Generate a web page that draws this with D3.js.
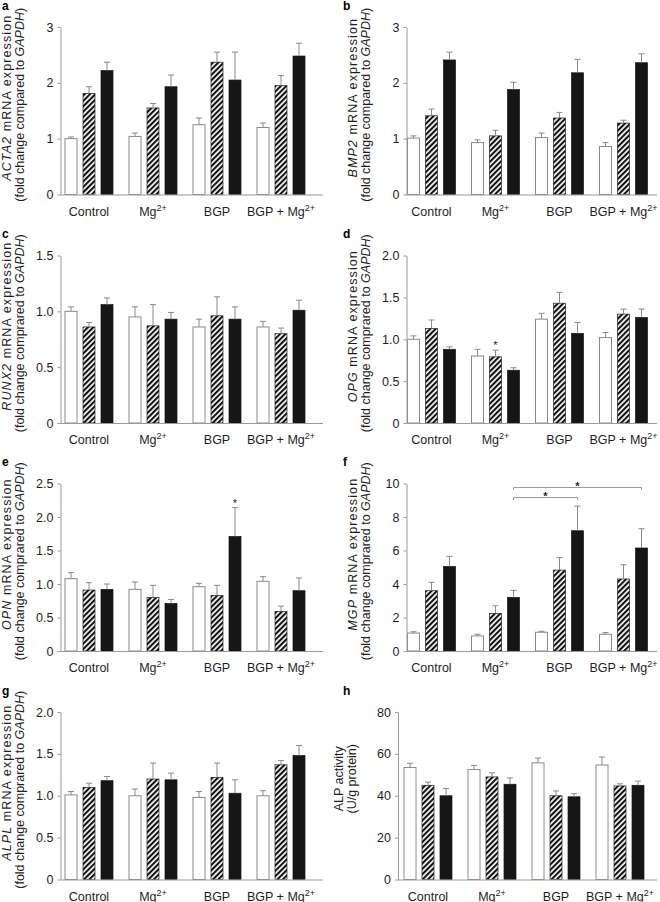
<!DOCTYPE html>
<html>
<head>
<meta charset="utf-8">
<script src="https://cdn.jsdelivr.net/npm/d3@7"></script>
<style>
  body { margin: 0; background: #fff; }
  svg { font-family: "Liberation Sans", Arial, Helvetica, sans-serif; }
</style>
</head>
<body>
<svg id="fig" width="660" height="902"></svg>
<script>
// groups on the x axis and the three bar series inside each group
const groups = ['Control', 'Mg', 'BGP', 'BGPMg'];
const groupLabels = ['Control', 'Mg', 'BGP', 'BGP + Mg'];
const groupSup = ['', '2+', '', '2+'];
const series = ['white', 'hatched', 'black'];

// means (rows = groups, cols = series) and SEM
const acta2Mean = [[1.0, 1.81, 2.22], [1.04, 1.55, 1.93], [1.25, 2.37, 2.05], [1.2, 1.95, 2.48]];
const acta2Sem = [[0.03, 0.12, 0.15], [0.06, 0.08, 0.21], [0.12, 0.18, 0.5], [0.08, 0.18, 0.23]];

const bmp2Mean = [[1.01, 1.41, 2.41], [0.93, 1.05, 1.88], [1.02, 1.37, 2.18], [0.86, 1.28, 2.36]];
const bmp2Sem = [[0.04, 0.12, 0.14], [0.05, 0.10, 0.13], [0.08, 0.10, 0.24], [0.07, 0.05, 0.16]];

const runx2Mean = [[1.0, 0.86, 1.06], [0.95, 0.87, 0.93], [0.86, 0.96, 0.93], [0.86, 0.8, 1.01]];
const runx2Sem = [[0.04, 0.04, 0.06], [0.09, 0.19, 0.06], [0.07, 0.17, 0.11], [0.05, 0.05, 0.09]];

const opgMean = [[1.0, 1.13, 0.88], [0.8, 0.79, 0.63], [1.24, 1.43, 1.07], [1.02, 1.3, 1.26]];
const opgSem = [[0.04, 0.10, 0.03], [0.08, 0.08, 0.03], [0.07, 0.13, 0.13], [0.06, 0.06, 0.10]];

const opnMean = [[1.08, 0.91, 0.92], [0.92, 0.8, 0.71], [0.96, 0.83, 1.71], [1.04, 0.59, 0.9]];
const opnSem = [[0.09, 0.11, 0.08], [0.11, 0.18, 0.06], [0.05, 0.15, 0.43], [0.07, 0.08, 0.19]];

const mgpMean = [[1.07, 3.6, 5.05], [0.9, 2.25, 3.2], [1.12, 4.83, 7.18], [1.0, 4.3, 6.15]];
const mgpSem = [[0.08, 0.5, 0.6], [0.1, 0.45, 0.42], [0.06, 0.75, 1.47], [0.1, 0.85, 1.15]];

const alplMean = [[1.01, 1.1, 1.18], [1.0, 1.2, 1.19], [0.98, 1.22, 1.03], [1.0, 1.37, 1.48]];
const alplSem = [[0.04, 0.05, 0.05], [0.08, 0.19, 0.08], [0.07, 0.17, 0.16], [0.06, 0.05, 0.12]];

const alpMean = [[53.5, 45, 40], [52.5, 49, 45.5], [55.7, 40, 39.5], [54.7, 44.7, 45]];
const alpSem = [[2, 1.5, 3.5], [2, 2, 3], [2.3, 2.3, 1.5], [3.8, 1, 2]];

// tick values and their labels
const ticks3 = [0, 1, 2, 3];
const tickLabels3 = ['0', '1', '2', '3'];
const ticks15 = [0, 0.5, 1, 1.5];
const tickLabels15 = ['0', '0.5', '1.0', '1.5'];
const ticks2 = [0, 0.5, 1, 1.5, 2];
const tickLabels2 = ['0', '0.5', '1.0', '1.5', '2.0'];
const ticks25 = [0, 0.5, 1, 1.5, 2, 2.5];
const tickLabels25 = ['0', '0.5', '1.0', '1.5', '2.0', '2.5'];
const ticks10 = [0, 2, 4, 6, 8, 10];
const tickLabels10 = ['0', '2', '4', '6', '8', '10'];
const ticks80 = [0, 20, 40, 60, 80];
const tickLabels80 = ['0', '20', '40', '60', '80'];

// significance marks: [group, series]
const opgStars = [[1, 1]];
const opnStars = [[2, 2]];
// brackets: [from group, to group, series, height]
const mgpBrackets = [[1, 2, 2, 9.17], [1, 3, 2, 9.82]];

// ---- layout ----
const svg = d3.select('#fig');
const rowTop = [27, 255.5, 483.5, 712];
const plotH = 167.5;
const colLayout = [
  { axisX: 60.5, barX: 65, endX: 323, letterX: 2 },
  { axisX: 406.5, barX: 407.5, endX: 657, letterX: 343 }
];
const axisColor = '#9a9a9a';
const errColor = '#8a8a8a';
const textColor = '#1e1e1e';

const defs = svg.append('defs');
const pat = defs.append('pattern')
  .attr('id', 'hatch')
  .attr('patternUnits', 'userSpaceOnUse')
  .attr('width', 3.8).attr('height', 3.8)
  .attr('patternTransform', 'rotate(45)');
pat.append('rect').attr('width', 3.8).attr('height', 3.8).attr('fill', '#fff');
pat.append('rect').attr('width', 2.1).attr('height', 3.8).attr('fill', '#111');

const panels = [
  { letter: 'a', col: 0, row: 0, mean: acta2Mean, sem: acta2Sem, max: 3, ticks: ticks3, tickLabels: tickLabels3, gene: 'ACTA2', comp: 'compared' },
  { letter: 'b', col: 1, row: 0, mean: bmp2Mean, sem: bmp2Sem, max: 3, ticks: ticks3, tickLabels: tickLabels3, gene: 'BMP2', comp: 'compared' },
  { letter: 'c', col: 0, row: 1, mean: runx2Mean, sem: runx2Sem, max: 1.5, ticks: ticks15, tickLabels: tickLabels15, gene: 'RUNX2', comp: 'comprared' },
  { letter: 'd', col: 1, row: 1, mean: opgMean, sem: opgSem, max: 2, ticks: ticks2, tickLabels: tickLabels2, gene: 'OPG', comp: 'comprared', stars: opgStars },
  { letter: 'e', col: 0, row: 2, mean: opnMean, sem: opnSem, max: 2.5, ticks: ticks25, tickLabels: tickLabels25, gene: 'OPN', comp: 'comprared', stars: opnStars },
  { letter: 'f', col: 1, row: 2, mean: mgpMean, sem: mgpSem, max: 10, ticks: ticks10, tickLabels: tickLabels10, gene: 'MGP', comp: 'comprared', brackets: mgpBrackets },
  { letter: 'g', col: 0, row: 3, mean: alplMean, sem: alplSem, max: 2, ticks: ticks2, tickLabels: tickLabels2, gene: 'ALPL', comp: 'comprared' },
  { letter: 'h', col: 1, row: 3, mean: alpMean, sem: alpSem, max: 80, ticks: ticks80, tickLabels: tickLabels80, activity: true, axisX: 398, barX: 404 }
];

function drawPanel(p) {
  const col = colLayout[p.col];
  const axisX = p.axisX !== undefined ? p.axisX : col.axisX;
  const barX = p.barX !== undefined ? p.barX : col.barX;
  const top = rowTop[p.row];
  const bottom = top + plotH;
  const g = svg.append('g');

  const y = d3.scaleLinear().domain([0, p.max]).range([bottom, top]);
  const x0 = d3.scaleBand().domain(groups).range([barX, barX + 240]).paddingInner(0.25).paddingOuter(0);
  const x1 = d3.scaleBand().domain(series).range([0, x0.bandwidth()]).paddingInner(1 / 3);
  const cx = (gi, si) => x0(groups[gi]) + x1(series[si]) + x1.bandwidth() / 2;

  // bars
  const cells = [];
  p.mean.forEach((row, gi) => row.forEach((v, si) => cells.push({ gi, si, v, e: p.sem[gi][si] })));

  g.selectAll('rect.bar').data(cells).enter().append('rect')
    .attr('class', 'bar')
    .attr('x', d => x0(groups[d.gi]) + x1(series[d.si]))
    .attr('y', d => y(d.v))
    .attr('width', x1.bandwidth())
    .attr('height', d => y(0) - y(d.v))
    .attr('fill', d => d.si === 0 ? '#fff' : d.si === 1 ? 'url(#hatch)' : '#161616')
    .attr('stroke', d => d.si === 0 ? errColor : d.si === 1 ? '#222' : '#161616')
    .attr('stroke-width', d => d.si === 0 ? 1 : 0.7);

  // error bars (upper only)
  g.selectAll('line.err').data(cells).enter().append('line')
    .attr('x1', d => cx(d.gi, d.si)).attr('x2', d => cx(d.gi, d.si))
    .attr('y1', d => y(d.v)).attr('y2', d => y(d.v + d.e))
    .attr('stroke', errColor).attr('stroke-width', 1);
  g.selectAll('line.cap').data(cells).enter().append('line')
    .attr('x1', d => cx(d.gi, d.si) - 3).attr('x2', d => cx(d.gi, d.si) + 3)
    .attr('y1', d => y(d.v + d.e)).attr('y2', d => y(d.v + d.e))
    .attr('stroke', errColor).attr('stroke-width', 1);

  // y axis
  const yAxis = g.append('g')
    .attr('transform', `translate(${axisX},0)`)
    .call(d3.axisLeft(y).tickValues(p.ticks).tickFormat((d, i) => p.tickLabels[i])
      .tickSize(3).tickSizeOuter(0).tickPadding(4));
  yAxis.select('.domain').attr('stroke', axisColor);
  yAxis.selectAll('.tick line').attr('stroke', axisColor);
  yAxis.selectAll('.tick text').attr('fill', textColor).style('font-size', '12.5px');

  // x axis line
  g.append('line')
    .attr('x1', axisX).attr('x2', col.endX)
    .attr('y1', bottom + 0.5).attr('y2', bottom + 0.5)
    .attr('stroke', axisColor);

  // category labels
  groups.forEach((grp, gi) => {
    const t = g.append('text')
      .attr('x', x0(grp) + x0.bandwidth() / 2)
      .attr('y', bottom + 21)
      .attr('text-anchor', 'middle')
      .attr('fill', textColor)
      .style('font-size', '12.5px')
      .text(groupLabels[gi]);
    if (groupSup[gi]) {
      t.append('tspan').attr('dy', -5).style('font-size', '9px').text(groupSup[gi]);
    }
  });

  // y label
  const mid = (top + bottom) / 2;
  if (p.activity) {
    g.append('text')
      .attr('transform', `translate(${axisX - 55.5},${mid - 17}) rotate(-90)`)
      .attr('text-anchor', 'middle').attr('fill', textColor).style('font-size', '12.5px')
      .text('ALP activity');
    g.append('text')
      .attr('transform', `translate(${axisX - 42.5},${mid - 17}) rotate(-90)`)
      .attr('text-anchor', 'middle').attr('fill', textColor).style('font-size', '12.5px')
      .text('(U/g protein)');
  } else {
    const l1 = g.append('text')
      .attr('transform', `translate(${axisX - 49.5},${mid - 13}) rotate(-90)`)
      .attr('text-anchor', 'middle').attr('fill', textColor).style('font-size', '12.5px')
      .style('letter-spacing', '1.1px');
    l1.append('tspan').style('font-style', 'italic').text(p.gene);
    l1.append('tspan').text(' mRNA expression');
    const l2 = g.append('text')
      .attr('transform', `translate(${axisX - 36.5},${mid - 6}) rotate(-90)`)
      .attr('text-anchor', 'middle').attr('fill', textColor).style('font-size', '12.5px');
    l2.append('tspan').text(`(fold change ${p.comp} to `);
    l2.append('tspan').style('font-style', 'italic').text('GAPDH');
    l2.append('tspan').text(')');
  }

  // panel letter
  g.append('text')
    .attr('x', col.letterX).attr('y', top - 17.5)
    .attr('fill', '#000').style('font-size', '12px').style('font-weight', 'bold')
    .text(p.letter);

  // stars over bars
  (p.stars || []).forEach(([gi, si]) => {
    g.append('text')
      .attr('x', cx(gi, si)).attr('y', y(p.mean[gi][si] + p.sem[gi][si]) - 1)
      .attr('text-anchor', 'middle').attr('fill', textColor).style('font-size', '11px')
      .text('*');
  });

  // significance brackets
  (p.brackets || []).forEach(([ga, gb, si, h]) => {
    const xa = cx(ga, si), xb = cx(gb, si), yy = Math.round(y(h)) + 0.5;
    g.append('path')
      .attr('d', `M${xa},${yy + 2.5}V${yy}H${xb}V${yy + 2.5}`)
      .attr('fill', 'none').attr('stroke', axisColor).attr('stroke-width', 1);
    g.append('text')
      .attr('x', (xa + xb) / 2).attr('y', yy + 2.5)
      .attr('text-anchor', 'middle').attr('fill', textColor).style('font-size', '11px').style('font-weight', 'bold')
      .text('*');
  });
}

panels.forEach(drawPanel);
</script>
</body>
</html>
